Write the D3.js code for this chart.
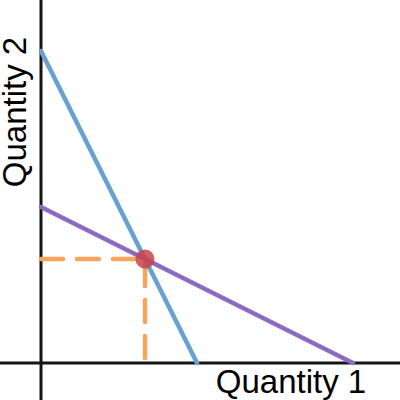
<!DOCTYPE html>
<html><head><meta charset="utf-8">
<script src="https://cdn.jsdelivr.net/npm/d3@7"></script>
<style>html,body{margin:0;padding:0;background:#fff;}svg{display:block;}</style>
</head><body>
<script>
// Data
const lineNames = ["blue", "purple"];
const xIntercepts = [5, 10];
const yIntercepts = [10, 5];
const lineColors = ["#6a9fd2", "#8c6cc2"];
const equilibrium = [10/3, 10/3];
const axisLabels = ["Quantity 1", "Quantity 2"];

const W = 400, H = 400;
const svg = d3.select("body").append("svg").attr("width", W).attr("height", H);
const x = d3.scaleLinear().domain([0, 10]).range([41, 353]);
const y = d3.scaleLinear().domain([0, 10]).range([363, 51]);

// axes
svg.append("line").attr("x1", x(0)).attr("x2", x(0)).attr("y1", 0).attr("y2", H)
  .attr("stroke", "#151515").attr("stroke-width", 3);
svg.append("line").attr("x1", 0).attr("x2", W).attr("y1", y(0)).attr("y2", y(0))
  .attr("stroke", "#151515").attr("stroke-width", 3);

// dashed guides
svg.append("line").attr("x1", x(0)).attr("y1", y(equilibrium[1]))
  .attr("x2", x(equilibrium[0])).attr("y2", y(equilibrium[1]))
  .attr("stroke", "#f8a45a").attr("stroke-width", 4.5).attr("stroke-linecap", "round")
  .attr("stroke-dasharray", "22 14");
svg.append("line").attr("x1", x(equilibrium[0])).attr("y1", y(equilibrium[1]))
  .attr("x2", x(equilibrium[0])).attr("y2", y(0))
  .attr("stroke", "#f8a45a").attr("stroke-width", 4.5).attr("stroke-linecap", "round")
  .attr("stroke-dasharray", "22 14").attr("stroke-dashoffset", 31);

// lines
lineNames.forEach((n, i) => {
  svg.append("line")
    .attr("x1", x(0)).attr("y1", y(yIntercepts[i]))
    .attr("x2", x(xIntercepts[i])).attr("y2", y(0))
    .attr("stroke", lineColors[i]).attr("stroke-width", 4.5).attr("stroke-linecap", "round");
});

// point
svg.append("circle").attr("cx", x(equilibrium[0])).attr("cy", y(equilibrium[1])).attr("r", 9.5)
  .attr("fill", "#c8434a").attr("fill-opacity", 0.85);

// labels
svg.append("text").attr("x", 291).attr("y", 393).attr("text-anchor", "middle")
  .attr("font-family", "Liberation Sans, Arial, sans-serif").attr("font-size", 33)
  .attr("fill", "#000").text(axisLabels[0]);
svg.append("text").attr("transform", "translate(26,112) rotate(-90)").attr("text-anchor", "middle")
  .attr("font-family", "Liberation Sans, Arial, sans-serif").attr("font-size", 33)
  .attr("fill", "#000").text(axisLabels[1]);
</script>
</body></html>
